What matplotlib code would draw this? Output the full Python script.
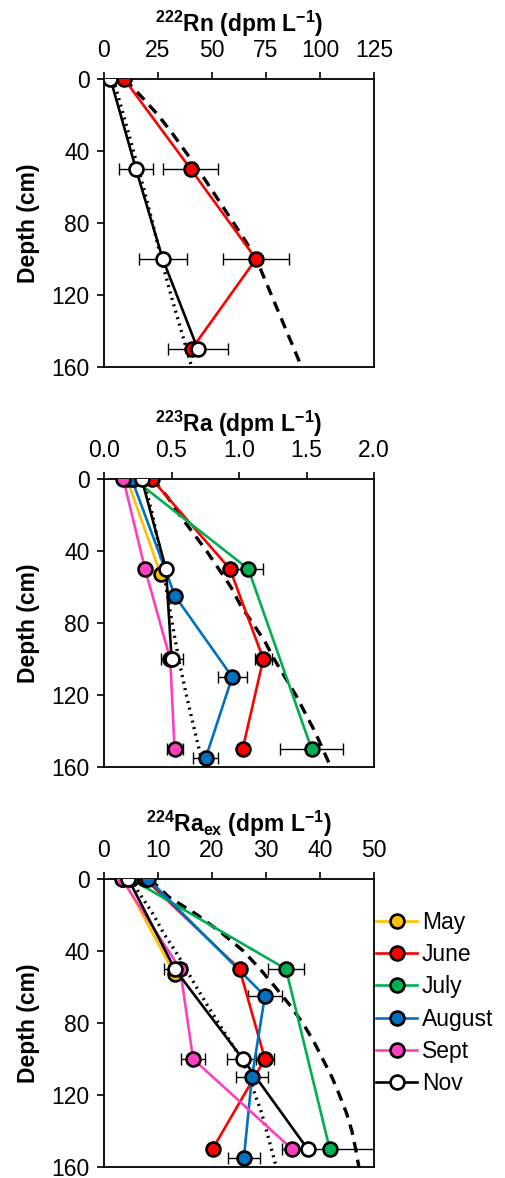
import matplotlib
matplotlib.use("Agg")
import matplotlib.pyplot as plt
import numpy as np
from matplotlib.lines import Line2D

plt.rcParams['font.family'] = ['Liberation Sans', 'DejaVu Sans']
plt.rcParams['mathtext.fontset'] = 'custom'
plt.rcParams['mathtext.rm'] = 'Liberation Sans:bold'
plt.rcParams['mathtext.it'] = 'Liberation Sans:bold'
plt.rcParams['mathtext.bf'] = 'Liberation Sans:bold'
plt.rcParams['mathtext.default'] = 'rm'

months = ["May", "June", "July", "August", "Sept", "Nov"]
colors = ["#FFC000", "#FF0000", "#00B050", "#0070C0", "#FF3FBF", "white"]
lines = ["#FFC000", "#FF0000", "#00B050", "#0070C0", "#FF3FBF", "black"]

# ---- 222Rn ----
rn_june_d = [0, 50, 100, 150]
rn_june = [9.3, 40.1, 70.4, 40.6]
rn_june_e = [0, 12.7, 15.3, 0]
rn_nov_d = [0, 50, 100, 150]
rn_nov = [3.0, 14.8, 27.2, 43.4]
rn_nov_e = [0, 7.7, 11.0, 14.0]
rn_model_d = [0, 10, 20, 30, 40, 50, 60, 70, 80, 90, 100, 110, 120, 130, 140, 150, 160]
rn_dash = [9.5, 17.5, 25, 31.5, 37.5, 43.5, 49, 54.5, 60, 65.5, 70.5, 74, 77.5, 81, 84.5, 88, 91.5]
rn_dot_d = [0, 20, 40, 60, 80, 100, 120, 140, 160]
rn_dot = [4.3, 9.0, 13.6, 18.2, 22.5, 26.5, 31, 35.8, 40.6]

# ---- 223Ra ----
ra3_depth = [[0, 53], [0, 50, 100, 150], [0, 50, 150], [0, 65, 110, 155],
             [0, 50, 100, 150], [0, 50, 100]]
ra3_vals = [[0.17, 0.42], [0.353, 0.933, 1.18, 1.027], [0.22, 1.069, 1.538],
            [0.205, 0.526, 0.95, 0.753], [0.143, 0.304, 0.49, 0.523], [0.279, 0.459, 0.501]]
ra3_err = [[0, 0], [0, 0, 0.065, 0.03], [0, 0.11, 0.235], [0, 0, 0.109, 0.093],
           [0, 0, 0, 0.06], [0, 0, 0.081]]
ra3_dash = [0.36, 0.47, 0.56, 0.66, 0.76, 0.85, 0.94, 1.01, 1.10, 1.19, 1.26, 1.34, 1.42, 1.49, 1.56, 1.62, 1.68]
ra3_dot = [0.29, 0.36, 0.415, 0.46, 0.505, 0.553, 0.61, 0.672, 0.736]

# ---- 224Ra_ex ----
ra4_depth = [[0, 53], [0, 50, 100, 150], [0, 50, 150], [0, 65, 110, 155],
             [0, 50, 100, 150], [0, 50, 100, 150]]
ra4_vals = [[3.6, 13.1], [7.6, 25.1, 29.8, 20.1], [5.0, 33.7, 41.8],
            [8.2, 29.8, 27.4, 25.9], [3.3, 14.1, 16.5, 34.8], [4.5, 13.1, 25.7, 37.7]]
ra4_err = [[0, 0], [0, 0, 1.7, 0], [0, 3.4, 8.85], [0, 3.1, 2.9, 2.9],
           [0, 0, 2.25, 0], [0, 2.0, 3.0, 0]]
ra4_dash = [8.5, 12, 17.3, 21.8, 25.8, 28.9, 31.7, 34.4, 36.8, 38.8, 40.5, 42.2, 43.6, 44.9, 45.9, 46.6, 47.2]
ra4_dot_d = [0, 10, 20, 30, 40, 50, 60, 70, 80, 90, 100, 110, 120, 130, 140, 150, 160]
ra4_dot = [4.8, 7, 9.2, 11, 13.2, 15.2, 17.1, 19.1, 21.2, 23.3, 25.5, 26.9, 28, 29.2, 30.1, 31, 31.9]

fig = plt.figure(figsize=(5.05, 11.78), dpi=100)
W, H = 505, 1178
axes = []
for top in [79, 479, 879]:
    ax = fig.add_axes([104 / W, 1 - (top + 288) / H, 270 / W, 288 / H])
    axes.append(ax)


def style(ax, xmax, xticks, title, fmt=None):
    ax.set_xlim(0, xmax)
    ax.set_ylim(160, 0)
    ax.set_xticks(xticks)
    if fmt:
        ax.set_xticklabels([fmt % t for t in xticks])
    ax.set_yticks([0, 40, 80, 120, 160])
    ax.xaxis.tick_top()
    ax.tick_params(axis='x', direction='out', length=5, width=1.2, labelsize=16.5, pad=7)
    ax.tick_params(axis='y', direction='out', length=5.2, width=1.2, labelsize=16.5, pad=5)
    for s in ax.spines.values():
        s.set_linewidth(1.3)
    ax.set_ylabel("Depth (cm)", fontsize=16.5, fontweight='bold', labelpad=8)
    ax.set_title(title, fontsize=16.5, fontweight='bold', pad=4)


def draw(ax, i, d, v, e):
    e = np.array(e, dtype=float)
    if e.any():
        ax.errorbar(v, d, xerr=e, fmt='none', ecolor='black', elinewidth=1.0,
                    capsize=4, capthick=1.0, zorder=3)
    ax.plot(v, d, '-', color=lines[i], lw=1.9, zorder=4)
    ax.plot(v, d, 'o', mfc=colors[i], mec='black', mew=1.9, ms=10, zorder=5,
            label=months[i])


dash_ls = (0, (3.2, 2.2))
dot_ls = (0, (0.6, 1.4))

# Rn panel
ax = axes[0]
ax.plot(rn_dash, rn_model_d, color='black', lw=2.4, ls=dash_ls, zorder=2)
ax.plot(rn_dot, rn_dot_d, color='black', lw=2.4, ls=dot_ls, zorder=2)
draw(ax, 1, rn_june_d, rn_june, rn_june_e)
draw(ax, 5, rn_nov_d, rn_nov, rn_nov_e)
style(ax, 125, [0, 25, 50, 75, 100, 125], r"$^{222}$Rn (dpm L$^{-1}$)")

# 223Ra panel
ax = axes[1]
ax.plot(ra3_dash, rn_model_d, color='black', lw=2.4, ls=dash_ls, zorder=2)
ax.plot(ra3_dot, rn_dot_d, color='black', lw=2.4, ls=dot_ls, zorder=2)
for i in range(6):
    draw(ax, i, ra3_depth[i], ra3_vals[i], ra3_err[i])
style(ax, 2.0, [0, 0.5, 1.0, 1.5, 2.0], r"$^{223}$Ra (dpm L$^{-1}$)", fmt="%.1f")

# 224Ra panel
ax = axes[2]
ax.plot(ra4_dash, rn_model_d, color='black', lw=2.4, ls=dash_ls, zorder=2)
ax.plot(ra4_dot, ra4_dot_d, color='black', lw=2.4, ls=dot_ls, zorder=2)
for i in range(6):
    draw(ax, i, ra4_depth[i], ra4_vals[i], ra4_err[i])
style(ax, 50, [0, 10, 20, 30, 40, 50], r"$^{224}$Ra$_{ex}$ (dpm L$^{-1}$)")

handles = [Line2D([], [], color=lines[i], lw=1.9, marker='o', mfc=colors[i], mec='black',
                  mew=1.9, ms=10) for i in range(6)]
fig.legend(handles, months, loc='center left', bbox_to_anchor=(376 / W, 1 - 1003 / H),
           frameon=False, fontsize=16.5, handlelength=1.8, handletextpad=0.2,
           labelspacing=0.4, borderpad=0, borderaxespad=0)

fig.savefig("out.png", dpi=100)
